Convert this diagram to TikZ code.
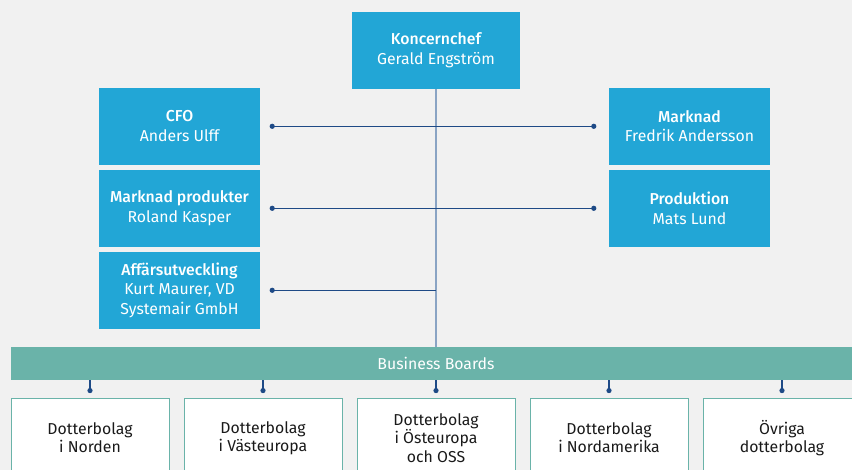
\documentclass[tikz,border=0pt]{standalone}
\usepackage{fontspec}
\setmainfont{Fira Sans}[BoldFont={Fira Sans Medium}]
\usetikzlibrary{calc}
\definecolor{bgc}{HTML}{F1F1F1}
\definecolor{boxblue}{HTML}{22A6D6}
\definecolor{teal}{HTML}{6AB3A9}
\definecolor{navy}{HTML}{1E4A86}
\definecolor{spine}{HTML}{8AA4C4}
\definecolor{txt}{HTML}{1A1A1A}
\tikzset{
  mgr/.style={fill=boxblue, text=white, minimum width=161pt, minimum height=76.7pt,
    inner sep=0pt, align=center, font=\fontsize{15.8}{19.6}\selectfont},
  sub/.style={fill=white, draw=teal, line width=0.8pt, text=txt, minimum width=158pt,
    minimum height=80pt, inner sep=0pt, align=center, font=\fontsize{15.8}{18.2}\selectfont},
  hline/.style={draw=navy, line width=1.2pt},
  dot/.style={fill=navy},
}
\begin{document}
\begin{tikzpicture}[x=1pt,y=-1pt]
\useasboundingbox (0,0) rectangle (852,470);
\fill[bgc] (0,0) rectangle (852,470);
\clip (0,0) rectangle (852,470);
\node[mgr, minimum width=168pt] (kc) at (436,50.3) {{\bfseries Koncernchef}\\Gerald Engström};
\node[mgr] (cfo) at (179.5,126.3) {{\bfseries CFO}\\Anders Ulff};
\node[mgr] (mp) at (179.5,208.3) {{\bfseries Marknad produkter}\\Roland Kasper};
\node[mgr] (af) at (179.5,290.3) {{\bfseries Affärsutveckling}\\Kurt Maurer, VD\\Systemair GmbH};
\node[mgr] (mk) at (689.5,126.3) {{\bfseries Marknad}\\Fredrik Andersson};
\node[mgr] (pr) at (689.5,208.3) {{\bfseries Produktion}\\Mats Lund};
\node[fill=teal, minimum width=860pt, minimum height=33pt, inner sep=0pt,
  anchor=west] (bb) at (11,363.5) {};
\node[text=white, font=\fontsize{15.8}{18}\selectfont] (bbl) at (436,363.5) {Business Boards};
% spine
\draw[spine, line width=1.4pt] (kc.south) -- (kc.south |- bb.north);
% horizontal connectors
\coordinate (c1) at ($(cfo.east)+(12,0)$);
\coordinate (c2) at ($(mk.west)+(-15,0)$);
\coordinate (c3) at ($(mp.east)+(12,0)$);
\coordinate (c4) at ($(pr.west)+(-15,0)$);
\coordinate (c5) at ($(af.east)+(12,0)$);
\coordinate (c6) at (kc.south |- af.east);
\draw[hline] (c1) -- (c2);
\draw[hline] (c3) -- (c4);
\draw[hline] (c5) -- (c6);
\foreach \c in {c1,c2,c3,c4,c5} \fill[dot] (\c) circle (2.6pt);
% subsidiaries
\node[sub] (s1) at (90,438) {Dotterbolag\\i Norden};
\node[sub] (s2) at (263,438) {Dotterbolag\\i Västeuropa};
\node[sub] (s3) at (436,438) {Dotterbolag\\i Östeuropa\\och OSS};
\node[sub] (s4) at (609,438) {Dotterbolag\\i Nordamerika};
\node[sub] (s5) at (782,438) {Övriga\\dotterbolag};
\foreach \s in {s1,s2,s3,s4,s5} {
  \coordinate (d\s) at ($(\s.north)+(0,-7)$);
  \draw[hline] (\s.north |- bb.south) -- (d\s);
  \fill[dot] (d\s) circle (2.6pt);
}
\end{tikzpicture}
\end{document}
